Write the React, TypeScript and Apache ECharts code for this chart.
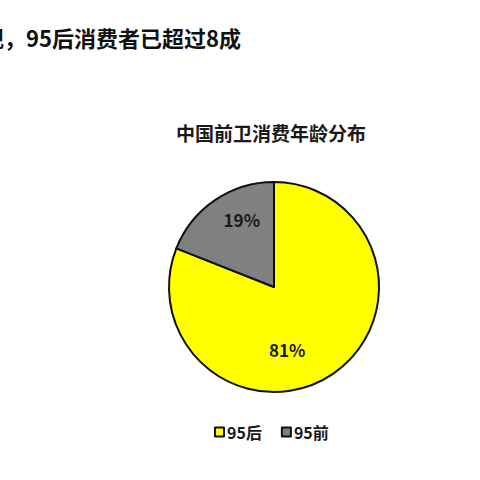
import React, { useEffect, useRef } from 'react';
import * as echarts from 'echarts';

const headline = '现，95后消费者已超过8成';
const chartTitle = '中国前卫消费年龄分布';
const groups = ['95后', '95前'];
const shares = [81, 19];
const colors = ['#ffff00', '#808080'];

const FONT = '"Noto Sans CJK SC", "Noto Sans", sans-serif';

const App: React.FC = () => {
  const chartRef = useRef<HTMLDivElement>(null);

  useEffect(() => {
    if (!chartRef.current) return;
    const chart = echarts.init(chartRef.current, undefined, { renderer: 'svg' });

    // hand-tuned label nudges so the percentages sit where the original has them
    const labelOffsets = [
      [-18, 17],
      [-1, -22],
    ];

    chart.setOption({
      animation: false,
      backgroundColor: '#ffffff',
      textStyle: { fontFamily: FONT },
      title: {
        text: chartTitle,
        left: 176,
        top: 123,
        padding: 0,
        textStyle: { fontSize: 19, fontWeight: 'bold', color: '#1a1a1a', fontFamily: FONT },
      },
      graphic: [
        {
          type: 'text',
          left: -18,
          top: 26,
          style: {
            text: headline,
            fontSize: 22,
            fontWeight: 'bold',
            fill: '#111111',
            fontFamily: FONT,
          },
        },
      ],
      legend: {
        top: 424,
        left: 214,
        padding: 0,
        itemWidth: 9,
        itemHeight: 9,
        itemGap: 19,
        icon: 'rect',
        textStyle: { fontSize: 16, fontWeight: 'bold', color: '#1a1a1a', fontFamily: FONT, padding: [0, 0, 0, -2] },
        itemStyle: { borderColor: '#111111', borderWidth: 2 },
        data: groups,
      },
      series: [
        {
          type: 'pie',
          center: [274, 287],
          radius: 105,
          startAngle: 90,
          clockwise: true,
          itemStyle: { borderColor: '#111111', borderWidth: 2 },
          label: {
            position: 'inside',
            formatter: '{d}%',
            fontSize: 17,
            fontWeight: 'bold',
            color: '#1a1a1a',
            fontFamily: FONT,
          },
          labelLine: { show: false },
          emphasis: { disabled: true },
          data: groups.map((name, i) => ({
            name,
            value: shares[i],
            itemStyle: { color: colors[i] },
            label: { offset: labelOffsets[i] },
          })),
        },
      ],
    });

    return () => {
      chart.dispose();
    };
  }, []);

  return (
    <div
      ref={chartRef}
      style={{ position: 'fixed', left: 0, top: 0, width: 480, height: 480 }}
    ></div>
  );
};

export default App;
